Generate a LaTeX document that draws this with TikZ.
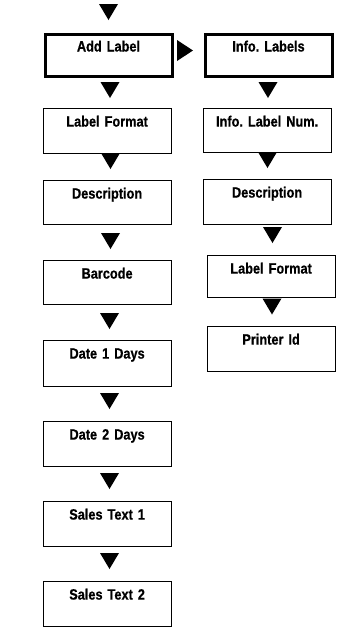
\documentclass[tikz,border=0pt]{standalone}
\usepackage{fontspec}
\setmainfont{Liberation Sans}[FakeStretch=0.85, BoldFeatures={FakeBold=0.6}]
\frenchspacing
\begin{document}
\begin{tikzpicture}[x=1pt,y=-1pt,
  box/.style={draw, line width=1.2pt, rectangle, anchor=north west,
    inner xsep=0pt, inner ysep=0pt, align=center,
    font=\frenchspacing\bfseries\fontsize{15}{17}\selectfont},
  thickbox/.style={box, line width=3pt},
  downtip/.pic={\fill (-9.5,0) -- (9.5,0) -- (0,16) -- cycle;},
  righttip/.pic={\fill (0,-10.5) -- (0,10.5) -- (16,0) -- cycle;}]
\useasboundingbox (0,0) rectangle (351,630);

% left column
\node[thickbox, text width=127pt, text height=17.5pt, text depth=24.5pt] (add) at (43.5,32.5) {Add Label};
\node[box, text width=128pt, text height=18.5pt, text depth=26.5pt] (lf) at (42.5,107.5) {Label Format};
\node[box, text width=128pt, text height=18.5pt, text depth=25.5pt] (desc) at (42.5,179.5) {Description};
\node[box, text width=128pt, text height=18.5pt, text depth=25.5pt] (bar) at (42.5,259.5) {Barcode};
\node[box, text width=128pt, text height=18.5pt, text depth=27.5pt] (d1) at (42.5,339.5) {Date 1 Days};
\node[box, text width=128pt, text height=18.5pt, text depth=26.5pt] (d2) at (42.5,420.5) {Date 2 Days};
\node[box, text width=128pt, text height=18.5pt, text depth=26.5pt] (s1) at (42.5,500.5) {Sales Text 1};
\node[box, text width=128pt, text height=18.5pt, text depth=26.5pt] (s2) at (42.5,580.5) {Sales Text 2};

% right column
\node[thickbox, text width=127pt, text height=17.5pt, text depth=24.5pt] (info) at (203.5,32.5) {Info. Labels};
\node[box, text width=128pt, text height=18.5pt, text depth=25.5pt] (num) at (202.5,107.5) {Info. Label Num.};
\node[box, text width=128pt, text height=18.5pt, text depth=26.5pt] (rdesc) at (202.5,178.5) {Description};
\node[box, text width=128pt, text height=18.5pt, text depth=23.5pt] (rlf) at (206.5,254.5) {Label Format};
\node[box, text width=128pt, text height=18.5pt, text depth=26.5pt] (pid) at (206.5,325.5) {Printer Id};

% flow marks, left column
\pic at (108.5,4) {downtip};
\pic at (110,82) {downtip};
\pic at (110.5,153) {downtip};
\pic at (110.5,233) {downtip};
\pic at (109.5,313) {downtip};
\pic at (109.5,393) {downtip};
\pic at (109.5,473) {downtip};
\pic at (109.5,553) {downtip};

% flow marks, right column
\pic at (177,50.5) {righttip};
\pic at (268,82) {downtip};
\pic at (267.5,152) {downtip};
\pic at (272.5,227) {downtip};
\pic at (272,298.5) {downtip};
\end{tikzpicture}
\end{document}
